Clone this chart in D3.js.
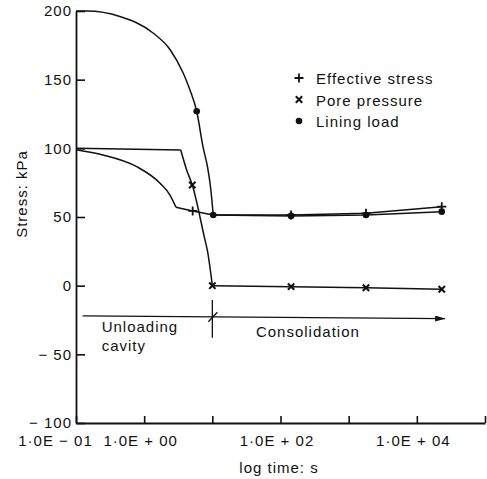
<!DOCTYPE html>
<html>
<head>
<meta charset="utf-8">
<script src="https://cdn.jsdelivr.net/npm/d3@7"></script>
<style>
  body { margin: 0; background: #fff; }
  svg { display: block; }
  text { font-family: "Liberation Sans", Arial, Helvetica, sans-serif; fill: #111; }
</style>
</head>
<body>
<div id="chart"></div>
<script>
// tick values / labels
const xTicks = [0.1, 1, 10, 100, 1000, 10000, 100000];
const xLabelValues = [0.1, 1, 100, 10000];
const xLabelText = ["1\u00b70E \u2212 01", "1\u00b70E + 00", "1\u00b70E + 02", "1\u00b70E + 04"];
const yTicks = [-100, -50, 0, 50, 100, 150, 200];
const yTickLabels = ["\u2212 100", "\u2212 50", "0", "50", "100", "150", "200"];

// series: [time s, stress kPa]
// curved parts are drawn smooth, the rest straight
const effectiveCurve = [[0.1, 99], [0.249, 95.2], [0.777, 86.7], [1.71, 74.6], [2.39, 66], [2.93, 57.1]];
const effectiveStraight = [[2.93, 57.1], [5.15, 54.4], [10.3, 51.5], [143, 51.5], [1795, 52.7], [23200, 57.5]];
const effectiveMarks = [[5.15, 54.4], [143, 51.5], [1795, 52.7], [23200, 57.5]];

const poreStraight = [[0.1, 100], [3.44, 98.8]];
const poreCurve = [[3.44, 98.8], [4.2, 84.3], [5.08, 73.3], [7.8, 33.3], [8.43, 26], [10, 0]];
const poreConsol = [[10, 0], [143, -0.7], [1795, -1.5], [23200, -2.6]];
const poreMarks = [[5.08, 73.3], [10, 0], [143, -0.7], [1795, -1.5], [23200, -2.6]];

const liningCurve = [[0.1, 200], [0.144, 200], [0.44, 196], [1.35, 184], [2.39, 172], [3.72, 155],
                     [4.7, 142.5], [5.9, 127], [7.3, 101], [8.6, 85], [9.5, 70], [10.3, 51.5]];
const liningConsol = [[10.3, 51.5], [143, 50.8], [1795, 51.5], [23200, 53.9]];
const liningMarks = [[5.9, 127], [10.3, 51.5], [143, 50.8], [1795, 51.5], [23200, 53.9]];

const legendLabels = ["Effective stress", "Pore pressure", "Lining load"];

// stage annotation
const stageArrow = [[0.125, -22], [26000, -24]];
const stageSplit = [[10, -10.5], [10, -38]];
const unloadText = [[0.238, -33.7, "Unloading"], [0.238, -47.5, "cavity"]];
const consolText = [[43.6, -37.4, "Consolidation"]];

const W = 487, H = 479;

const svg = d3.select("#chart").append("svg")
  .attr("width", W).attr("height", H);

svg.append("defs").append("marker")
  .attr("id", "arrow")
  .attr("viewBox", "0 0 10 6")
  .attr("refX", 10).attr("refY", 3)
  .attr("markerWidth", 10).attr("markerHeight", 6)
  .attr("markerUnits", "userSpaceOnUse")
  .attr("orient", "auto")
  .append("path").attr("d", "M0,0L10,3L0,6Z").attr("fill", "#111");

const x = d3.scaleLog().domain([0.1, 1e5]).range([76, 485]);
const y = d3.scaleLinear().domain([-100, 200]).range([423, 11]);

const font = (sel) => sel.attr("font-family", "\"Liberation Sans\", Arial, sans-serif")
  .attr("font-size", 15).attr("letter-spacing", "1px");

// x axis
const xAxis = svg.append("g")
  .attr("transform", "translate(0," + y(-100) + ")")
  .call(d3.axisBottom(x)
    .tickValues(xTicks)
    .tickSizeInner(-7)
    .tickSizeOuter(0)
    .tickPadding(12)
    .tickFormat(d => {
      const i = xLabelValues.indexOf(d);
      return i < 0 ? "" : xLabelText[i];
    }));
font(xAxis);
xAxis.selectAll("text").attr("dx", d => d === 0.1 ? -21 : -4).attr("fill", "#111");

// y axis
const yAxis = svg.append("g")
  .attr("transform", "translate(" + x(0.1) + ",0)")
  .call(d3.axisLeft(y)
    .tickValues(yTicks)
    .tickSizeInner(-9)
    .tickSizeOuter(0)
    .tickPadding(4)
    .tickFormat((d, i) => yTickLabels[i]));
font(yAxis);
yAxis.selectAll("text").attr("fill", "#111");

svg.selectAll(".domain").attr("stroke", "#111").attr("stroke-width", 1.8);
svg.selectAll(".tick line").attr("stroke", "#111").attr("stroke-width", 1.6);

// axis titles
font(svg.append("text")
  .attr("transform", "translate(27," + 194 + ") rotate(-90)")
  .attr("text-anchor", "middle")
  .text("Stress: kPa"));

font(svg.append("text")
  .attr("x", 279).attr("y", 473)
  .attr("text-anchor", "middle")
  .text("log time: s"));

// lines
const smooth = d3.line().x(d => x(d[0])).y(d => y(d[1])).curve(d3.curveMonotoneX);
const straight = d3.line().x(d => x(d[0])).y(d => y(d[1]));

const drawPath = (data, gen) => svg.append("path")
  .datum(data)
  .attr("d", gen)
  .attr("fill", "none")
  .attr("stroke", "#111")
  .attr("stroke-width", 1.5)
  .attr("stroke-linejoin", "round");

drawPath(effectiveCurve, smooth);
drawPath(effectiveStraight, straight);
drawPath(poreStraight, straight);
drawPath(poreCurve, smooth);
drawPath(poreConsol, straight);
drawPath(liningCurve, smooth);
drawPath(liningConsol, straight);

// markers
const plusPath = "M-4.5,0H4.5M0,-4.5V4.5";
const crossPath = "M-3.2,-3.2L3.2,3.2M-3.2,3.2L3.2,-3.2";

function plus(g) {
  g.append("path").attr("d", plusPath).attr("stroke", "#111").attr("stroke-width", 1.8).attr("fill", "none");
}
function cross(g) {
  g.append("path").attr("d", crossPath).attr("stroke", "#111").attr("stroke-width", 2).attr("fill", "none");
}
function dot(g) {
  g.append("circle").attr("r", 3.3).attr("fill", "#111");
}

const drawMarks = (data, fn) => svg.append("g")
  .selectAll("g")
  .data(data)
  .enter()
  .append("g")
    .attr("transform", d => "translate(" + x(d[0]) + "," + y(d[1]) + ")")
    .each(function () { fn(d3.select(this)); });

drawMarks(liningMarks, dot);
drawMarks(effectiveMarks, plus);
drawMarks(poreMarks, cross);

// legend
const legendFns = [plus, cross, dot];
const legend = svg.append("g").attr("transform", "translate(299,78)");
legendLabels.forEach((label, i) => {
  const row = legend.append("g").attr("transform", "translate(0," + (i * 21.5) + ")");
  legendFns[i](row);
  font(row.append("text")
    .attr("x", 17).attr("y", 6)
    .text(label));
});

// stage annotation
svg.append("path")
  .datum(stageArrow)
  .attr("d", straight)
  .attr("stroke", "#111").attr("stroke-width", 1.3).attr("fill", "none")
  .attr("marker-end", "url(#arrow)");

svg.append("path")
  .datum(stageSplit)
  .attr("d", straight)
  .attr("stroke", "#111").attr("stroke-width", 1.3).attr("fill", "none");

// small slash where the split crosses the arrow
const sx = x(10), sy = (y(stageArrow[0][1]) + y(stageArrow[1][1])) / 2;
svg.append("line")
  .attr("x1", sx - 4).attr("y1", sy + 4.5)
  .attr("x2", sx + 5).attr("y2", sy - 5)
  .attr("stroke", "#111").attr("stroke-width", 1.3);

unloadText.concat(consolText).forEach(d => {
  font(svg.append("text")
    .attr("x", x(d[0])).attr("y", y(d[1]))
    .text(d[2]));
});
</script>
</body>
</html>
